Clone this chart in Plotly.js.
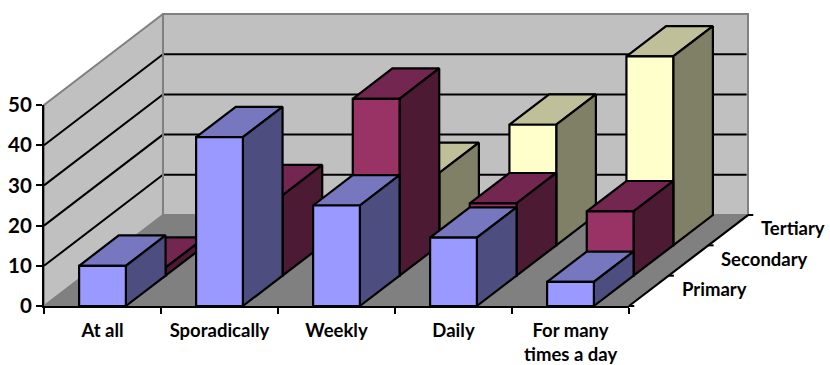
<!DOCTYPE html>
<html>
<head>
<meta charset="utf-8">
<script src="https://cdn.plot.ly/plotly-3.0.1.min.js"></script>
<style>html,body{margin:0;padding:0;background:#fff}#chart{width:830px;height:365px}</style>
</head>
<body>
<div id="chart"></div>
<script>
// Survey results, one row of bars per school level
const categories = ['At all', 'Sporadically', 'Weekly', 'Daily', 'For many'];
const categorySecondLine = 'times a day';
const seriesNames = ['Primary', 'Secondary', 'Tertiary'];
const primary = [10, 42, 25, 17, 6];
const secondary = [2, 20, 44, 18, 16];
const tertiary = [null, null, 18, 30, 47];
const valueTicks = [0, 10, 20, 30, 40, 50];

// Oblique projection: one depth row shifts this far along the category and value axes
const ROW_DX = 0.339;
const ROW_DY = 7.545;
const BAR_GAP = 0.3;
const FONT = {family: 'Lato, Carlito, sans-serif', size: 18.5, color: '#000'};

// Figure size and the rectangle taken by the front face of the chart
const W = 830, H = 365;
const FRONT = {left: 44, right: 629, top: 105, bottom: 306};

const palettes = [
  {front: '#9999FF', top: '#7777C0', side: '#4D4D80'},
  {front: '#993366', top: '#732650', side: '#4D1A33'},
  {front: '#FFFFCC', top: '#BFBF99', side: '#808066'}
];

const traces = [];
function poly(pts, fill, line, width) {
  traces.push({
    type: 'scatter', mode: 'lines', hoverinfo: 'skip', showlegend: false,
    x: pts.map(p => p[0]), y: pts.map(p => p[1]),
    fill: fill ? 'toself' : 'none', fillcolor: fill || undefined,
    line: {color: line, width: width, simplify: false}
  });
}

const depth = seriesNames.length;
const nCat = categories.length;
const backX = depth * ROW_DX, backY = depth * ROW_DY;
const topV = valueTicks[valueTicks.length - 1];

// Walls and floor
poly([[0, 0], [backX, backY], [backX, backY + topV], [0, topV], [0, 0]], '#C0C0C0', '#808080', 2);
poly([[backX, backY], [nCat + backX, backY], [nCat + backX, backY + topV], [backX, backY + topV], [backX, backY]], '#C0C0C0', '#808080', 2);
poly([[0, 0], [nCat, 0], [nCat + backX, backY], [backX, backY], [0, 0]], '#808080', '#808080', 1);

// Gridlines wrapping around the two walls
valueTicks.slice(1, -1).forEach(v => {
  poly([[0, v], [backX, backY + v], [nCat + backX - 0.012, backY + v]], null, '#000', 2);
});
// Re-lay the corner where the walls meet
poly([[backX, backY], [backX, backY + topV]], null, '#808080', 2);

// Floor edge on the right with its depth ticks
poly([[nCat, 0], [nCat + backX, backY]], null, '#000', 2.2);
for (let k = 0; k <= depth; k++) {
  poly([[nCat + k * ROW_DX, k * ROW_DY], [nCat + k * ROW_DX + 0.045, k * ROW_DY]], null, '#000', 2);
}

// Bars, back row first so nearer rows overlap them
[tertiary, secondary, primary].forEach((values, idx) => {
  const k = depth - 1 - idx;
  const pal = palettes[k];
  values.forEach((v, i) => {
    if (v === null) return;
    const x0 = i + BAR_GAP + k * ROW_DX, x1 = i + 1 - BAR_GAP + k * ROW_DX;
    const y0 = k * ROW_DY, y1 = y0 + v;
    poly([[x0, y1], [x0 + ROW_DX, y1 + ROW_DY], [x1 + ROW_DX, y1 + ROW_DY], [x1, y1], [x0, y1]], pal.top, '#000', 2.2);
    poly([[x1, y0], [x1 + ROW_DX, y0 + ROW_DY], [x1 + ROW_DX, y1 + ROW_DY], [x1, y1], [x1, y0]], pal.side, '#000', 2.2);
    poly([[x0, y0], [x1, y0], [x1, y1], [x0, y1], [x0, y0]], pal.front, '#000', 2.2);
  });
});

// Keeps the tick-bearing axes alive on their own subplot
traces.push({type: 'scatter', mode: 'none', x: [], y: [], xaxis: 'x2', yaxis: 'y2', hoverinfo: 'skip', showlegend: false});

const annotations = seriesNames.map((name, k) => ({
  x: nCat + (k + 0.5) * ROW_DX, y: (k + 0.5) * ROW_DY, xref: 'x', yref: 'y',
  text: '<b>' + name + '</b>', showarrow: false, xanchor: 'left', yanchor: 'middle', xshift: 31, yshift: 2, font: FONT
}));
annotations.push({
  x: nCat - 0.5, y: -11.9, xref: 'x', yref: 'y', text: '<b>' + categorySecondLine + '</b>',
  showarrow: false, xanchor: 'center', yanchor: 'middle', font: FONT
});

// The full-figure axes share the scale of the front face, so projected shapes are never cut off
const perCat = (FRONT.right - FRONT.left) / nCat;
const perVal = (FRONT.bottom - FRONT.top) / topV;

const layout = {
  width: W, height: H,
  margin: {l: 0, r: 0, t: 0, b: 0, pad: 0},
  paper_bgcolor: '#fff', plot_bgcolor: 'rgba(0,0,0,0)',
  showlegend: false,
  font: FONT,
  xaxis: {
    domain: [0, 1], anchor: 'y', visible: false, fixedrange: true,
    range: [-FRONT.left / perCat, (W - FRONT.left) / perCat]
  },
  yaxis: {
    domain: [0, 1], anchor: 'x', visible: false, fixedrange: true,
    range: [-(H - FRONT.bottom) / perVal, FRONT.bottom / perVal]
  },
  xaxis2: {
    domain: [FRONT.left / W, FRONT.right / W], anchor: 'y2',
    range: [0, nCat], showgrid: false, zeroline: false, fixedrange: true,
    showline: true, linecolor: '#000', linewidth: 2,
    tickmode: 'array', tickvals: categories.map((c, i) => i + 0.5),
    ticktext: categories.map(c => '<b>' + c + '</b>'), ticks: '', ticklabelstandoff: 7,
    tickangle: 0,
    minor: {tickmode: 'array', tickvals: categories.map((c, i) => i).concat(nCat), ticks: 'outside', ticklen: 6, tickwidth: 2, tickcolor: '#000', showgrid: false},
    tickfont: FONT
  },
  yaxis2: {
    domain: [(H - FRONT.bottom) / H, (H - FRONT.top) / H], anchor: 'x2',
    range: [0, topV], showgrid: false, zeroline: false, fixedrange: true,
    showline: true, linecolor: '#000', linewidth: 2,
    tickmode: 'array', tickvals: valueTicks, ticktext: valueTicks.map(v => '<b>' + v + '</b>'),
    ticks: 'outside', ticklen: 6, tickwidth: 2, tickcolor: '#000',
    tickfont: {family: FONT.family, size: 20.5, color: '#000'}
  },
  annotations: annotations
};

Plotly.newPlot('chart', traces, layout, {displayModeBar: false, staticPlot: true});
</script>
</body>
</html>
